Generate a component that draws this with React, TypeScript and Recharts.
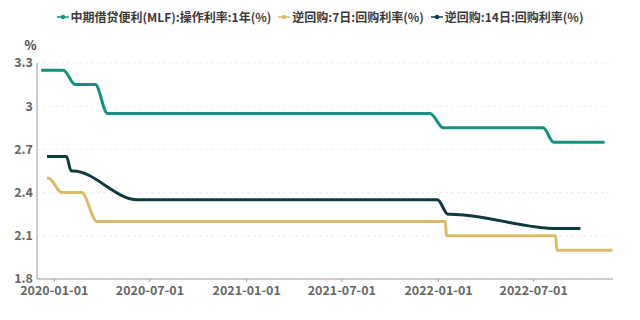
import { LineChart, Line, XAxis, YAxis, CartesianGrid } from 'recharts';

// 坐标轴刻度
const xTickDates = ['2020-01-01', '2020-07-01', '2021-01-01', '2021-07-01', '2022-01-01', '2022-07-01'];
const yTicks = [1.8, 2.1, 2.4, 2.7, 3, 3.3];
const xDomain = ['2019-11-29', '2022-11-29'];

// 中期借贷便利(MLF):操作利率:1年
const mlfDates = ['2019-12-07', '2020-01-18', '2020-02-10', '2020-03-19', '2020-04-11', '2021-12-16', '2022-01-10', '2022-07-19', '2022-08-08', '2022-11-13'];
const mlfValues = [3.25, 3.25, 3.15, 3.15, 2.95, 2.95, 2.85, 2.85, 2.75, 2.75];

// 逆回购:7日
const repo7Dates = ['2019-12-18', '2019-12-21', '2020-01-15', '2020-02-22', '2020-03-22', '2022-01-14', '2022-01-16', '2022-08-12', '2022-08-14', '2022-11-28'];
const repo7Values = [2.5, 2.5, 2.4, 2.4, 2.2, 2.2, 2.1, 2.1, 2.0, 2.0];

// 逆回购:14日
const repo14Dates = ['2019-12-18', '2020-01-24', '2020-02-02', '2020-02-06', '2020-06-07', '2021-12-30', '2022-01-19', '2022-01-23', '2022-08-15', '2022-09-28'];
const repo14Values = [2.65, 2.65, 2.55, 2.55, 2.35, 2.35, 2.25, 2.25, 2.15, 2.15];

const seriesNames = ['中期借贷便利(MLF):操作利率:1年(%)', '逆回购:7日:回购利率(%)', '逆回购:14日:回购利率(%)'];
const seriesColors = ['#13927f', '#dcba6c', '#0e3b3f'];

const toPoints = (dates: string[], values: number[]) =>
    dates.map((d, i) => ({ t: Date.parse(d), v: values[i] }));

const pad = (n: number) => String(n).padStart(2, '0');
const fmtDate = (t: number) => {
    const d = new Date(t);
    return `${d.getUTCFullYear()}-${pad(d.getUTCMonth() + 1)}-${pad(d.getUTCDate())}`;
};

const font = '"Noto Sans CJK SC", "Noto Sans", sans-serif';

export default function App() {
    const series = [
        toPoints(mlfDates, mlfValues),
        toPoints(repo7Dates, repo7Values),
        toPoints(repo14Dates, repo14Values),
    ];

    return (
        <div style={{ position: 'absolute', left: 0, top: 0, width: 640, height: 320, background: '#fff', fontFamily: font }}>
            <div style={{ position: 'absolute', top: 7, left: 0, width: 640, display: 'flex', justifyContent: 'center', alignItems: 'center', gap: 7 }}>
                {seriesNames.map((name, i) => (
                    <div key={name} style={{ display: 'flex', alignItems: 'center', gap: 2 }}>
                        <svg width={12} height={8}>
                            <line x1={0} y1={4} x2={12} y2={4} stroke={seriesColors[i]} strokeWidth={1.5} />
                            <circle cx={6} cy={4} r={2.2} fill={seriesColors[i]} />
                        </svg>
                        <span style={{ fontSize: 12, fontWeight: 'bold', color: '#3a3a3a', lineHeight: '20px' }}>{name}</span>
                    </div>
                ))}
            </div>
            <LineChart width={640} height={320} margin={{ top: 63, right: 27, bottom: 11, left: 0 }}>
                <CartesianGrid stroke="#eeeeee" strokeDasharray="3 3" vertical={false} />
                <XAxis
                    dataKey="t"
                    type="number"
                    domain={xDomain.map((d) => Date.parse(d))}
                    ticks={xTickDates.map((d) => Date.parse(d))}
                    tickFormatter={fmtDate}
                    allowDataOverflow
                    height={30}
                    stroke="#9a9a9a"
                    tickSize={3}
                    tickMargin={4}
                    tick={{ fill: '#666', fontSize: 12.5, fontWeight: 'bold', fontFamily: font }}
                />
                <YAxis
                    type="number"
                    domain={[1.8, 3.3]}
                    ticks={yTicks}
                    width={37}
                    stroke="#9a9a9a"
                    tickLine={false}
                    tickSize={2}
                    tickMargin={2}
                    tick={{ fill: '#666', fontSize: 12.5, fontWeight: 'bold', fontFamily: font }}
                    label={{ value: '%', position: 'top', dx: 12, offset: 13, fill: '#444', fontSize: 12.5, fontWeight: 'bold', fontFamily: font }}
                />
                {series.map((data, i) => (
                    <Line
                        key={seriesNames[i]}
                        data={data}
                        dataKey="v"
                        name={seriesNames[i]}
                        type="monotone"
                        stroke={seriesColors[i]}
                        strokeWidth={3}
                        dot={false}
                        isAnimationActive={false}
                    />
                ))}
            </LineChart>
        </div>
    );
}
